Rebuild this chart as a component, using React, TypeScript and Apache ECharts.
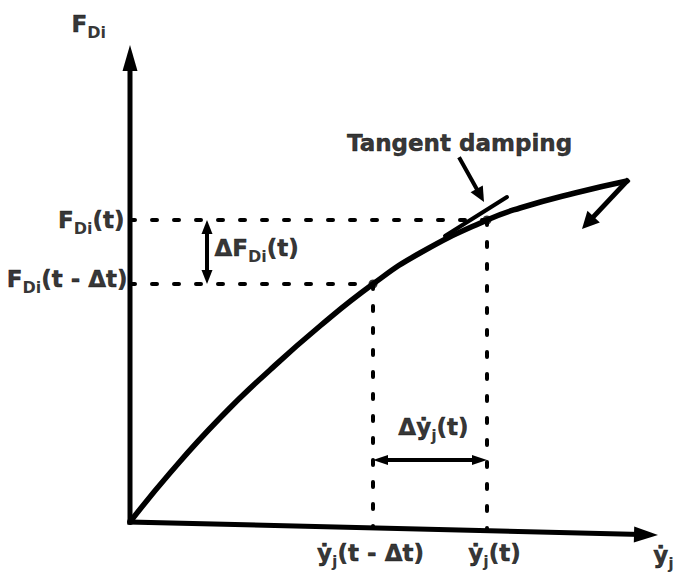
import React, { useEffect, useRef } from "react";
import * as echarts from "echarts";

// Loading curve of the damper: force F_Di against velocity ẏj (arbitrary units)
const velocity = [0, 4, 9, 14, 19, 24.3, 29, 35.7, 39, 44.5, 49.7];
const force = [0, 4.9, 10.4, 15.2, 19.6, 23.8, 26.9, 30.2, 31.4, 32.9, 34.1];

// Two consecutive time steps on the curve
const velPrev = 24.3; // ẏj(t - Δt)
const velNow = 35.7; // ẏj(t)
const forcePrev = 23.8; // F_Di(t - Δt)
const forceNow = 30.2; // F_Di(t)

// Axis extents (the velocity axis drops slightly towards its end)
const yAxisTop = 47.7;
const xAxisEnd = [52.8, -1.3];

// Tangent at the current step, and its callout
const tangentLine = [
  [31.5, 28.6],
  [37.7, 32.5],
];
const tangentCallout = [
  [33.0, 36.3],
  [35.4, 32.0],
];
// Unloading branch leaving the end of the curve
const unloadArrow = [
  [49.7, 34.1],
  [45.2, 29.3],
];

// Where the Δ dimension arrows sit
const deltaForceX = 7.7;
const deltaVelY = 6.2;

// Texts (rich text: m = main, s = subscript)
const txtForceAxis = "{m|F}{s|Di}";
const txtForceNow = "{m|F}{s|Di}{m|(t)}";
const txtForcePrev = "{m|F}{s|Di}{m|(t - Δt)}";
const txtDeltaForce = "{m|ΔF}{s|Di}{m|(t)}";
const txtDeltaVel = "{m|Δẏ}{s|j}{m|(t)}";
const txtVelPrev = "{m|ẏ}{s|j}{m|(t - Δt)}";
const txtVelNow = "{m|ẏ}{s|j}{m|(t)}";
const txtVelAxis = "{m|ẏ}{s|j}";
const txtTangent = "Tangent damping";

const FONT = "'DejaVu Sans', 'Liberation Sans', Arial, sans-serif";

const axisYAt = (x: number) => (xAxisEnd[1] * x) / xAxisEnd[0];

const ink = {
  color: "#000",
  textBorderColor: "#000",
  textBorderWidth: 0.5,
  fontFamily: FONT,
  fontWeight: "bold",
};

const rich = {
  m: { ...ink, fontSize: 23 },
  s: { ...ink, textBorderWidth: 0, fontSize: 16, padding: [17, 0, 0, 0] },
};

function textItem(
  value: number[],
  formatter: string,
  position: number[],
  align: string
) {
  return {
    value,
    label: {
      show: true,
      formatter,
      position,
      align,
      verticalAlign: "middle",
      rich,
      ...ink,
      fontSize: 23,
    },
  };
}

export default function App() {
  const ref = useRef<HTMLDivElement>(null);

  useEffect(() => {
    if (!ref.current) return;
    const chart = echarts.init(ref.current, undefined, { renderer: "svg" });

    // [x1, y1, x2, y2, headLength, headWidth, bothEnds, lineWidth]
    const arrows = [
      [0, 0, 0, yAxisTop, 26, 15, 0, 5],
      [0, 0, xAxisEnd[0], xAxisEnd[1], 24, 16, 0, 5],
      [deltaForceX, forcePrev, deltaForceX, forceNow, 14, 11, 1, 4],
      [velPrev, deltaVelY, velNow, deltaVelY, 15, 10, 1, 4],
      [
        tangentCallout[0][0],
        tangentCallout[0][1],
        tangentCallout[1][0],
        tangentCallout[1][1],
        15,
        14,
        0,
        4,
      ],
      [
        unloadArrow[0][0],
        unloadArrow[0][1],
        unloadArrow[1][0],
        unloadArrow[1][1],
        17,
        17,
        0,
        5,
      ],
    ];

    const option: any = {
      animation: false,
      backgroundColor: "#fff",
      grid: { left: 0, right: 0, top: 0, bottom: 0 },
      xAxis: { type: "value", min: -13, max: 54.8, show: false },
      yAxis: { type: "value", min: -6.3, max: 52.2, show: false },
      series: [
        {
          name: "loading curve",
          type: "line",
          data: velocity.map((v, i) => [v, force[i]]),
          smooth: 0.5,
          symbol: "none",
          silent: true,
          lineStyle: { color: "#000", width: 5.5, cap: "round", join: "round" },
          z: 3,
        },
        {
          name: "guides",
          type: "lines",
          coordinateSystem: "cartesian2d",
          silent: true,
          data: [
            { coords: [[0, forceNow], [velNow, forceNow]] },
            { coords: [[0, forcePrev], [velPrev, forcePrev]] },
            { coords: [[velPrev, forcePrev], [velPrev, axisYAt(velPrev)]] },
            { coords: [[velNow, forceNow], [velNow, axisYAt(velNow)]] },
          ],
          lineStyle: {
            color: "#000",
            width: 4,
            opacity: 1,
            type: [5, 17],
            cap: "round",
          },
          z: 2,
        },
        {
          name: "tangent",
          type: "lines",
          coordinateSystem: "cartesian2d",
          silent: true,
          data: [{ coords: tangentLine }],
          lineStyle: { color: "#000", width: 4, opacity: 1, cap: "round" },
          z: 4,
        },
        {
          name: "arrows",
          type: "custom",
          silent: true,
          encode: { x: [0, 2], y: [1, 3] },
          data: arrows,
          renderItem: (_params: any, api: any) => {
            const a = api.coord([api.value(0), api.value(1)]);
            const b = api.coord([api.value(2), api.value(3)]);
            const len = api.value(4);
            const wid = api.value(5);
            const both = api.value(6);
            const lw = api.value(7);
            const dx = b[0] - a[0];
            const dy = b[1] - a[1];
            const d = Math.hypot(dx, dy);
            const ux = dx / d;
            const uy = dy / d;
            const px = -uy;
            const py = ux;
            const head = (tip: number[], sx: number, sy: number) => {
              const bx = tip[0] - sx * len;
              const by = tip[1] - sy * len;
              return {
                type: "polygon",
                shape: {
                  points: [
                    tip,
                    [bx + (px * wid) / 2, by + (py * wid) / 2],
                    [bx - (px * wid) / 2, by - (py * wid) / 2],
                  ],
                },
                style: { fill: "#000" },
              };
            };
            const start = both
              ? [a[0] + ux * len * 0.8, a[1] + uy * len * 0.8]
              : a;
            const end = [b[0] - ux * len * 0.8, b[1] - uy * len * 0.8];
            const children: any[] = [
              {
                type: "line",
                shape: { x1: start[0], y1: start[1], x2: end[0], y2: end[1] },
                style: { stroke: "#000", lineWidth: lw, lineCap: "square" },
              },
              head(b, ux, uy),
            ];
            if (both) children.push(head(a, -ux, -uy));
            return { type: "group", children };
          },
          z: 5,
        },
        {
          name: "steps",
          type: "scatter",
          silent: true,
          symbol: "circle",
          symbolSize: 9,
          itemStyle: { color: "#000" },
          data: [
            [velPrev, forcePrev],
            [velNow, forceNow],
          ],
          z: 6,
        },
        {
          name: "texts",
          type: "scatter",
          silent: true,
          symbolSize: 1,
          itemStyle: { color: "rgba(0,0,0,0)" },
          data: [
            textItem([0, yAxisTop], txtForceAxis, [-58, -21], "left"),
            textItem([0, forceNow], txtForceNow, [-5, 0], "right"),
            textItem([0, forcePrev], txtForcePrev, [-2, -5], "right"),
            textItem(
              [deltaForceX, (forceNow + forcePrev) / 2],
              txtDeltaForce,
              [8, -4],
              "left"
            ),
            textItem(
              [(velPrev + velNow) / 2, deltaVelY],
              txtDeltaVel,
              [4, -33],
              "center"
            ),
            textItem([velPrev, 0], txtVelPrev, [-2, 31], "center"),
            textItem([velNow, 0], txtVelNow, [8, 31], "center"),
            textItem(xAxisEnd, txtVelAxis, [6, 20], "center"),
            textItem(tangentCallout[0], txtTangent, [0, -16], "center"),
          ],
          z: 7,
        },
      ],
    };

    chart.setOption(option);
    return () => chart.dispose();
  }, []);

  return (
    <div
      ref={ref}
      style={{
        position: "fixed",
        left: 0,
        top: 0,
        width: 678,
        height: 585,
        background: "#fff",
      }}
    />
  );
}
